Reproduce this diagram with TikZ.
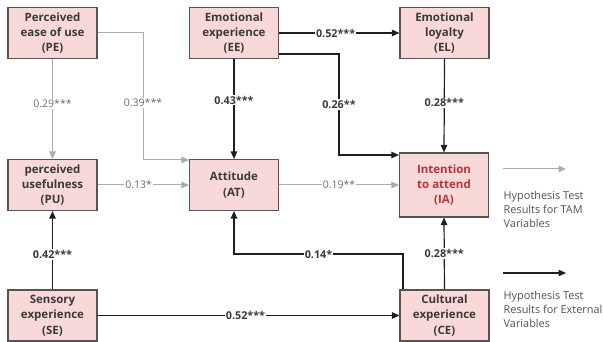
\documentclass[tikz,border=0pt]{standalone}
\usepackage{fontspec}
\setmainfont{Open Sans}
\usetikzlibrary{arrows.meta,calc}
\definecolor{boxfill}{HTML}{F9D9D7}
\definecolor{boxline}{HTML}{555555}
\definecolor{txt}{HTML}{3A3A3A}
\definecolor{tamgrey}{HTML}{ABABAB}
\definecolor{iared}{HTML}{B5343A}
\tikzset{
  var/.style={draw=boxline, line width=1.1pt, fill=boxfill, minimum width=89pt, minimum height=51pt,
    align=center, font=\fontsize{11.5}{15.3}\selectfont\bfseries, text=txt, inner sep=1pt},
  tam/.style={draw=tamgrey, line width=1pt, -{Triangle[length=7.5pt,width=6.5pt]}},
  ext/.style={draw=black!88, line width=1.2pt, -{Triangle[length=7.5pt,width=6.5pt]}},
  tamlab/.style={fill=white, inner sep=1.2pt, font=\fontsize{10.5}{12}\selectfont, text=black!58},
  extlab/.style={fill=white, inner sep=1.2pt, font=\fontsize{10.8}{12}\selectfont\bfseries, text=txt},
  legtxt/.style={anchor=north west, align=left, font=\fontsize{10.9}{13.6}\selectfont, text=black!68, inner sep=0pt}
}
\begin{document}
\begin{tikzpicture}[x=1pt,y=-1pt]
\useasboundingbox (0,0) rectangle (603,342);
\node[var] (PE) at (52.5,33) {Perceived\\ease of use\\(PE)};
\node[var] (EE) at (234,33) {Emotional\\experience\\(EE)};
\node[var] (EL) at (444.5,33) {Emotional\\loyalty\\(EL)};
\node[var] (PU) at (52.5,185) {perceived\\usefulness\\(PU)};
\node[var] (AT) at (234,185) {Attitude\\(AT)};
\node[var, minimum height=64pt, text=iared] (IA) at (444,185) {Intention\\to attend\\(IA)};
\node[var] (SE) at (52.5,315.5) {Sensory\\experience\\(SE)};
\node[var] (CE) at (444.5,315.5) {Cultural\\experience\\(CE)};

\coordinate (peTurn) at (143,33);
\coordinate (eeOut) at (EE.east |- 0,54);
\coordinate (eeTurn) at (339,54);
\coordinate (ceOut) at (403,290);
\coordinate (ceTurn) at (403,254);
\coordinate (atTurn) at (234,254);

% TAM (grey)
\draw[tam] (PE.south) -- node[tamlab, pos=0.45] {0.29***} (PU.north);
\draw[tam] (PE.east) -- (peTurn) -- node[tamlab, pos=0.55] {0.39***} (peTurn |- 0,160) -- (AT.west |- 0,160);
\draw[tam] (PU.east) -- node[tamlab, pos=0.45] {0.13*} (AT.west);
\draw[tam] (AT.east) -- node[tamlab, pos=0.5] {0.19**} (IA.west |- AT.east);

% External (black)
\draw[ext] (EE.east) -- node[extlab, pos=0.47] {0.52***} (EL.west);
\draw[ext] (EE.south) -- node[extlab, pos=0.41] {0.43***} (AT.north);
\draw[ext] (eeOut) -- (eeTurn) -- node[extlab, pos=0.5] {0.26**} (eeTurn |- 0,155) -- (IA.west |- 0,155);
\draw[ext] (EL.south) -- node[extlab, pos=0.47] {0.28***} (IA.north);
\draw[ext] (SE.north) -- node[extlab, pos=0.45] {0.42***} (PU.south);
\draw[ext] (SE.east) -- node[extlab, pos=0.49] {0.52***} (CE.west);
\draw[ext] (CE.north -| ceOut) -- (ceTurn) -- node[extlab, pos=0.5] {0.14*} (atTurn) -- (AT.south);
\draw[ext] (CE.north) -- node[extlab, pos=0.5] {0.28***} (IA.south);

% Legend
\coordinate (lg1a) at (503,169);
\coordinate (lg1b) at (566,169);
\coordinate (lg2a) at (503,273);
\coordinate (lg2b) at (566,273);
\draw[tam] (lg1a) -- (lg1b);
\draw[ext] (lg2a) -- (lg2b);
\node[legtxt] (lgt1) at (503.5,191.5) {Hypothesis Test\\Results for TAM\\Variables};
\node[legtxt] (lgt2) at (503.5,291.5) {Hypothesis Test\\Results for External\\Variables};
\end{tikzpicture}
\end{document}
